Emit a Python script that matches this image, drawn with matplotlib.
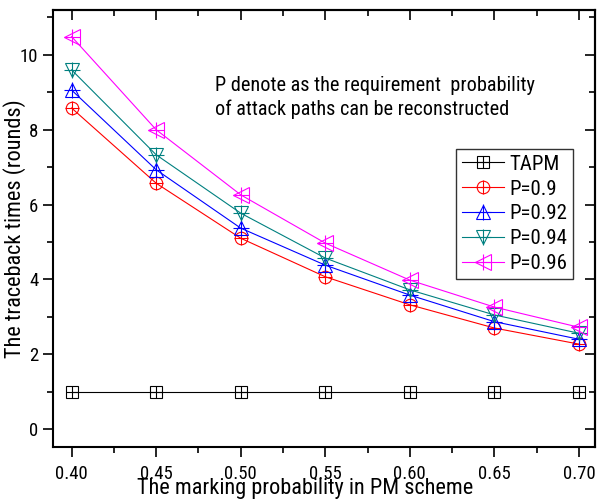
import matplotlib
matplotlib.use("Agg")
import matplotlib.pyplot as plt
from matplotlib.ticker import MultipleLocator, FormatStrFormatter
from matplotlib.legend_handler import HandlerTuple

plt.rcParams['font.family'] = ['Liberation Sans Narrow', 'Roboto Condensed',
                               'Liberation Sans', 'DejaVu Sans']

# marking probability in the PM scheme
x = [0.40, 0.45, 0.50, 0.55, 0.60, 0.65, 0.70]

tapm = [1, 1, 1, 1, 1, 1, 1]
p090 = [8.58, 6.57, 5.10, 4.07, 3.32, 2.70, 2.27]
p092 = [9.06, 6.93, 5.37, 4.38, 3.58, 2.87, 2.40]
p094 = [9.60, 7.33, 5.77, 4.57, 3.72, 3.05, 2.56]
p096 = [10.49, 8.00, 6.26, 4.97, 3.98, 3.26, 2.72]

labels = ['TAPM', 'P=0.9', 'P=0.92', 'P=0.94', 'P=0.96']
series = [tapm, p090, p092, p094, p096]
colors = ['black', 'red', 'blue', '#008080', '#ff00ff']
markers = ['s', 'o', '^', 'v', '<']
msizes = [8, 9, 10, 10, 11]

fig = plt.figure(figsize=(5.98, 4.99), dpi=100)
ax = fig.add_axes([0.0886, 0.1042, 0.9064, 0.8758])

handles = []
for ys, c, m, ms in zip(series, colors, markers, msizes):
    ln, = ax.plot(x, ys, color=c, lw=0.8, marker=m, ms=ms, mfc='none',
                  mec=c, mew=0.8)
    cr, = ax.plot(x, ys, ls='none', marker='+', ms=ms + 1, mec=c, mew=0.8)
    handles.append((ln, cr))

ax.set_xlim(0.389, 0.7095)
ax.set_ylim(-0.48, 11.2)
ax.xaxis.set_major_locator(MultipleLocator(0.05))
ax.xaxis.set_minor_locator(MultipleLocator(0.025))
ax.yaxis.set_major_locator(MultipleLocator(2))
ax.yaxis.set_minor_locator(MultipleLocator(1))
ax.xaxis.set_major_formatter(FormatStrFormatter('%.2f'))

ax.tick_params(which='both', direction='out', top=False, right=False,
               labelsize=13.5, width=1.2)
ax.tick_params(which='major', length=7)
ax.tick_params(which='minor', length=4)
ax.tick_params(axis='x', pad=6)

# mirrored inward ticks on top and right
secx = ax.secondary_xaxis('top')
secx.xaxis.set_major_locator(MultipleLocator(0.05))
secx.xaxis.set_minor_locator(MultipleLocator(0.025))
secx.tick_params(which='both', direction='in', labeltop=False, width=1.2)
secx.tick_params(which='major', length=7)
secx.tick_params(which='minor', length=4)
secy = ax.secondary_yaxis('right')
secy.yaxis.set_major_locator(MultipleLocator(2))
secy.yaxis.set_minor_locator(MultipleLocator(1))
secy.tick_params(which='both', direction='in', labelright=False, width=1.2)
secy.tick_params(which='major', length=7)
secy.tick_params(which='minor', length=4)

for s in ax.spines.values():
    s.set_linewidth(1.5)
secx.spines['top'].set_linewidth(1.5)
secy.spines['right'].set_linewidth(1.5)

ax.set_xlabel('The marking probability in PM scheme', fontsize=16)
ax.xaxis.set_label_coords(0.465, -0.07)
ax.set_ylabel('The traceback times (rounds)', fontsize=16)
ax.yaxis.set_label_coords(-0.05, 0.5)

ax.text(0.298, 0.80, 'P denote as the requirement  probability\nof attack paths can be reconstructed',
        transform=ax.transAxes, fontsize=14.6, va='center', ha='left', linespacing=1.3)

leg = ax.legend(handles, labels, handler_map={tuple: HandlerTuple(ndivide=1)},
                loc='upper left', bbox_to_anchor=(0.7435, 0.683), fontsize=15,
                handlelength=2.0, handletextpad=0.25, borderpad=0.3,
                borderaxespad=0, labelspacing=0.28, frameon=True,
                fancybox=False)
leg.get_frame().set_edgecolor('black')
leg.get_frame().set_linewidth(1.0)

fig.savefig('out.png', dpi=100)
